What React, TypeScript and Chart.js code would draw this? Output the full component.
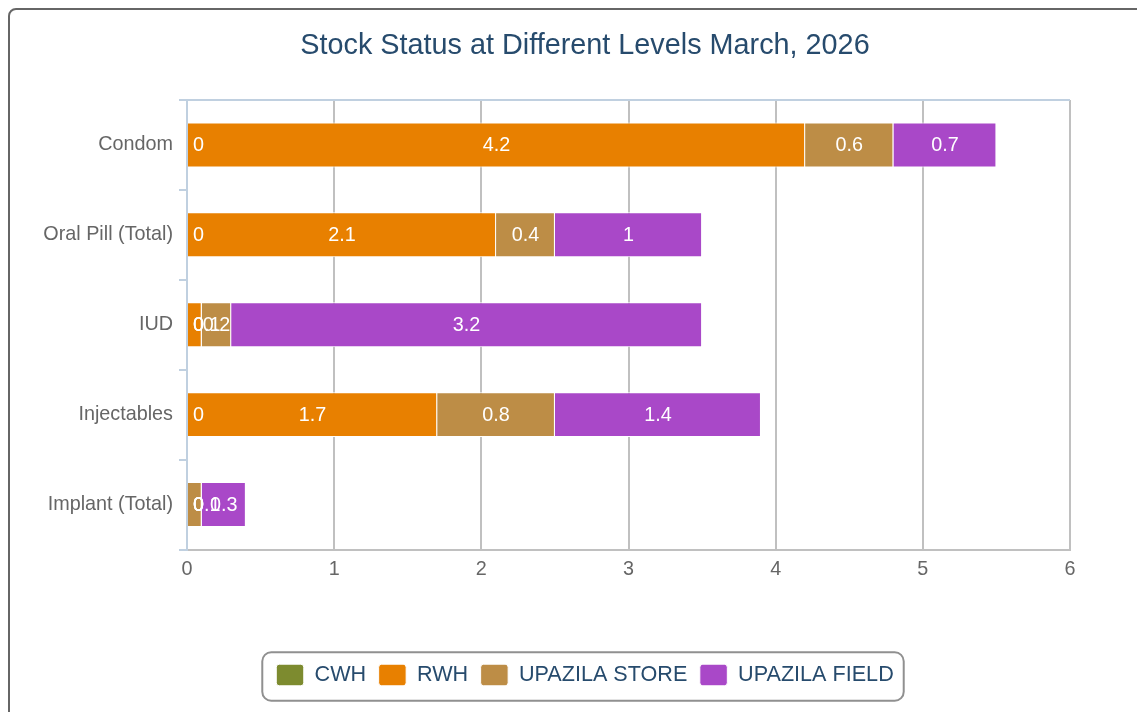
import React, { useEffect, useRef } from "react";
import { Chart, registerables } from "chart.js";

Chart.register(...registerables);

const FONT = '"Liberation Sans", Arial, Helvetica, sans-serif';
Chart.defaults.font.family = FONT;

const titleText = "Stock Status at Different Levels March, 2026";
const categories = ["Condom", "Oral Pill (Total)", "IUD", "Injectables", "Implant (Total)"];
const seriesNames = ["CWH", "RWH", "UPAZILA STORE", "UPAZILA FIELD"];
const cwhValues = [0, 0, 0, 0, 0];
const rwhValues = [4.2, 2.1, 0.1, 1.7, 0];
const storeValues = [0.6, 0.4, 0.2, 0.8, 0.1];
const fieldValues = [0.7, 1, 3.2, 1.4, 0.3];
const xMin = 0;
const xMax = 6;
const xStep = 1;
const seriesColors = ["#7D8B2F", "#E88000", "#BD8D46", "#A948C8"];

const dataLabelPlugin = {
  id: "dataLabels",
  afterDatasetsDraw(chart: any) {
    const { ctx, chartArea } = chart;
    ctx.save();
    ctx.font = `19.8px ${FONT}`;
    ctx.fillStyle = "#FFFFFF";
    ctx.textAlign = "left";
    ctx.textBaseline = "middle";
    chart.data.datasets.forEach((ds: any, di: number) => {
      const meta = chart.getDatasetMeta(di);
      if (!chart.isDatasetVisible(di)) return;
      meta.data.forEach((el: any, i: number) => {
        const v = ds.data[i];
        const text = String(v);
        const w = ctx.measureText(text).width;
        const { x, base, y } = el.getProps(["x", "base", "y"], true);
        let left = (x + base) / 2 - w / 2;
        const minLeft = chartArea.left + 6;
        if (left < minLeft) left = minLeft;
        if (left + w > chartArea.right - 6) left = chartArea.right - 6 - w;
        ctx.fillText(text, left, y + 1);
      });
    });
    ctx.restore();
  },
};

const framePlugin = {
  id: "frame",
  beforeDatasetsDraw(chart: any) {
    const { ctx, chartArea } = chart;
    ctx.save();
    ctx.strokeStyle = "#C0D0E0";
    ctx.lineWidth = 2;
    ctx.beginPath();
    ctx.moveTo(chartArea.left - 8, chartArea.top);
    ctx.lineTo(chartArea.right, chartArea.top);
    ctx.stroke();
    ctx.restore();
  },
  afterDraw(chart: any) {
    const { ctx } = chart;
    const hb = chart.legend && chart.legend.legendHitBoxes;
    if (!hb || !hb.length) return;
    const l = Math.min(...hb.map((h: any) => h.left)) - 14;
    const r = Math.max(...hb.map((h: any) => h.left + h.width)) + 10;
    const t = Math.min(...hb.map((h: any) => h.top)) - 12;
    const b = Math.max(...hb.map((h: any) => h.top + h.height)) + 15;
    ctx.save();
    ctx.strokeStyle = "#909090";
    ctx.lineWidth = 2;
    ctx.beginPath();
    ctx.roundRect(l, t, r - l, b - t, 9);
    ctx.stroke();
    ctx.restore();
  },
};

export default function App() {
  const ref = useRef<HTMLCanvasElement>(null);

  useEffect(() => {
    const seriesData = [cwhValues, rwhValues, storeValues, fieldValues];
    const chart = new Chart(ref.current as HTMLCanvasElement, {
      type: "bar",
      data: {
        labels: categories,
        datasets: seriesNames.map((name, i) => ({
          label: name,
          data: seriesData[i],
          backgroundColor: seriesColors[i],
          borderColor: "#FFFFFF",
          borderWidth: 1,
          categoryPercentage: 1,
          barPercentage: 0.5,
        })),
      },
      options: {
        indexAxis: "y",
        responsive: false,
        animation: false,
        layout: { padding: { left: 0, right: 0, top: 0, bottom: 14.2 } },
        scales: {
          x: {
            type: "linear",
            stacked: true,
            min: xMin,
            max: xMax,
            ticks: { stepSize: xStep, color: "#666666", font: { size: 19.8 }, padding: 8 },
            grid: { color: "#C0C0C0", lineWidth: 2, drawTicks: false },
            border: { display: true, color: "#C0C0C0", width: 2 },
            afterFit: (s: any) => {
              s.height = 102.2;
            },
          },
          y: {
            type: "category",
            stacked: true,
            ticks: { color: "#666666", font: { size: 19.8 }, padding: 6 },
            grid: {
              drawOnChartArea: false,
              drawTicks: true,
              tickLength: 8,
              color: "#C0D0E0",
              lineWidth: 2,
              offset: true,
            },
            border: { display: true, color: "#C0D0E0", width: 2 },
            afterFit: (s: any) => {
              s.width = 177;
            },
          },
          rightSpace: {
            type: "linear",
            position: "right",
            display: true,
            ticks: { display: false },
            grid: { display: false, drawTicks: false },
            border: { display: false },
            afterFit: (s: any) => {
              s.width = 90;
            },
          },
        },
        plugins: {
          title: {
            display: true,
            text: titleText,
            color: "#274B6D",
            font: { size: 28.8, weight: "normal", lineHeight: 1.2 },
            padding: { top: 18.5, bottom: 36.9 },
          },
          legend: {
            display: true,
            position: "bottom",
            labels: {
              color: "#274B6D",
              font: { size: 21.6 },
              boxWidth: 27.5,
              boxHeight: 21.6,
              padding: 12.5,
              useBorderRadius: true,
              borderRadius: 3,
            },
          },
          tooltip: { enabled: false },
        },
      } as any,
      plugins: [dataLabelPlugin, framePlugin],
    });
    return () => chart.destroy();
  }, []);

  return (
    <div style={{ width: 1137, height: 704, overflow: "hidden" }}>
      <div
        style={{
          width: 1160,
          height: 760,
          border: "2px solid #666666",
          borderRadius: 8,
          boxSizing: "border-box",
        }}
      >
        <canvas
          ref={ref}
          width={1150}
          height={700}
          style={{ display: "block", width: 1150, height: 700 }}
        />
      </div>
    </div>
  );
}
